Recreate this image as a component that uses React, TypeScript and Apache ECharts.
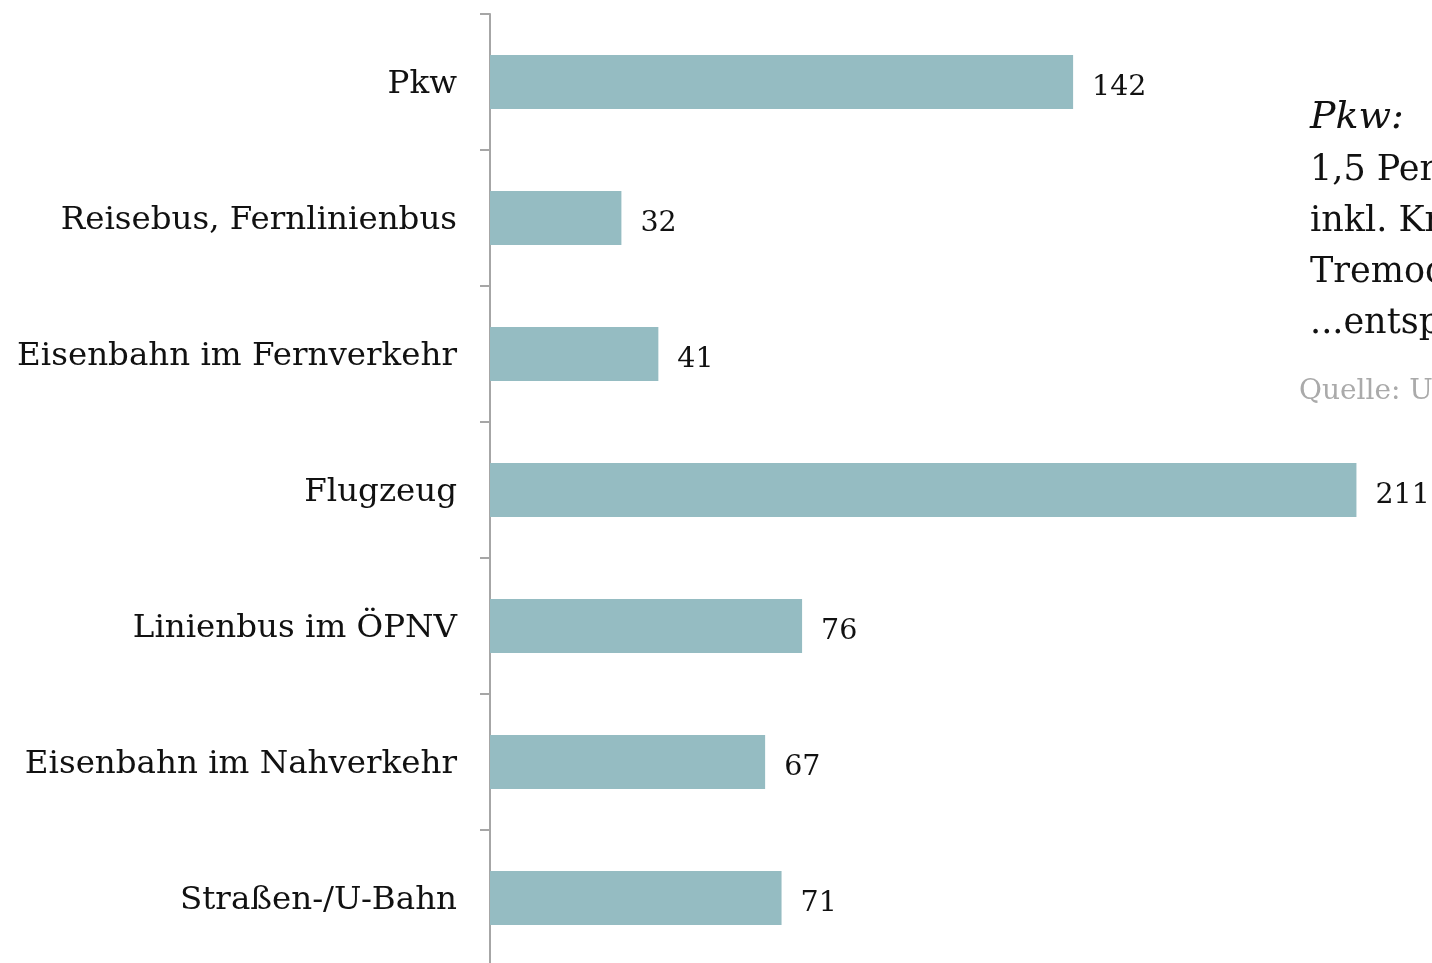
import React, { useEffect, useRef } from "react";
import * as echarts from "echarts";

const categories = [
  "Pkw",
  "Reisebus, Fernlinienbus",
  "Eisenbahn im Fernverkehr",
  "Flugzeug",
  "Linienbus im ÖPNV",
  "Eisenbahn im Nahverkehr",
  "Straßen-/U-Bahn",
];
const values = [142, 32, 41, 211, 76, 67, 71];
const noteTitle = "Pkw:";
const noteLines = [
  "1,5 Personen pro Fahrzeug,",
  "inkl. Kraftstoffbereitstellung",
  "Tremod 6.0",
  "...entspricht 95 g CO₂/km",
];
const sourceText = "Quelle: Umweltbundesamt";

const FONT = "DejaVu Serif";

export default function App() {
  const ref = useRef<HTMLDivElement>(null);
  useEffect(() => {
    const chart = echarts.init(ref.current!, null, { renderer: "svg" });
    chart.setOption({
      animation: false,
      grid: { left: 490, right: 0, top: 14, bottom: 0, containLabel: false },
      xAxis: {
        type: "value",
        min: 0,
        max: 229.4,
        show: false,
      },
      yAxis: {
        type: "category",
        data: categories,
        inverse: true,
        axisLine: { show: true, lineStyle: { color: "#a6a6a6", width: 2 } },
        axisTick: { show: true, length: 10, lineStyle: { color: "#a6a6a6", width: 2 } },
        axisLabel: {
          margin: 33,
          color: "#111",
          fontFamily: FONT,
          fontSize: 32.5,
        },
        splitLine: { show: false },
      },
      series: [
        {
          type: "bar",
          data: values,
          barWidth: 54,
          itemStyle: { color: "#95bcc2" },
          label: {
            show: true,
            position: "right",
            distance: 19,
            offset: [0, 3],
            color: "#111",
            fontFamily: FONT,
            fontSize: 28.5,
          },
        },
      ],
      graphic: [
        {
          type: "text",
          left: 1310,
          top: 96,
          style: {
            text: noteTitle,
            font: `italic 38px "${FONT}"`,
            fill: "#111",
          },
        },
        ...noteLines.map((t, i) => ({
          type: "text",
          left: 1310,
          top: 150 + i * 51,
          style: { text: t, font: `35px "${FONT}"`, fill: "#111" },
        })),
        {
          type: "text",
          left: 1299,
          top: 375,
          style: { text: sourceText, font: `28px "${FONT}"`, fill: "#aaaaaa" },
        },
      ],
    });
    return () => chart.dispose();
  }, []);
  return (
    <div
      ref={ref}
      style={{ position: "fixed", left: 0, top: 0, width: 1432, height: 966 }}
    />
  );
}
